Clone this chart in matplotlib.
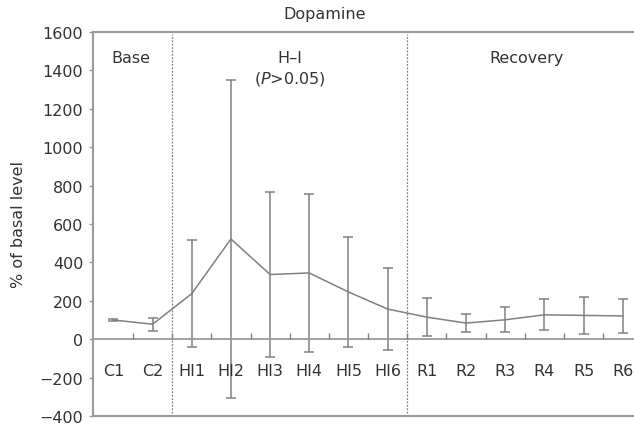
import matplotlib
matplotlib.use("Agg")
import matplotlib.pyplot as plt
import numpy as np

categories = ["C1", "C2", "HI1", "HI2", "HI3", "HI4", "HI5", "HI6",
              "R1", "R2", "R3", "R4", "R5", "R6"]
means = [100, 78, 237, 522, 337, 345, 246, 157, 115, 84, 101, 127, 124, 121]
errors = [5, 34, 280, 830, 432, 410, 288, 215, 98, 48, 66, 80, 96, 88]
phase_labels = ["H\u2212I\n($\\it{P}$>0.05)", "Base", "Recovery"]
phase_labels = ["Base", "H\u2013I\n($\\it{P}$>0.05)", "Recovery"]
phase_bounds = [1.5, 7.5]
yticks = [-400, -200, 0, 200, 400, 600, 800, 1000, 1200, 1400, 1600]

W, H = 634, 427
fig = plt.figure(figsize=(W / 100, H / 100), dpi=100)
ax = fig.add_axes([93 / W, 10 / H, (W - 93) / W + 0.01, (417 - 33) / H])

plt.rcParams['font.family'] = ['DejaVu Sans']
txt = '#333333'
gray = '#808080'
spine = '#9a9a9a'

x = np.arange(len(categories))
ax.errorbar(x, means, yerr=errors, color=gray, lw=1.1, capsize=3.8,
            elinewidth=1.1, capthick=1.1)

ax.set_xlim(-0.52, 13.45)
ax.set_ylim(-400, 1600)
ax.set_yticks(yticks)
ax.set_yticklabels([str(v).replace('-', '\u2212') for v in yticks],
                   fontsize=11.5, color=txt)
ax.tick_params(axis='y', length=3, width=1, color=spine, pad=4)
ax.set_xticks([])

ax.spines['right'].set_visible(False)
for s in ['left', 'top', 'bottom']:
    ax.spines[s].set_color(spine)
    ax.spines[s].set_linewidth(1.5)

# zero line with inward category separators
ax.axhline(0, color=spine, lw=1.3)
mids = x[:-1] + 0.5
ax.vlines(mids, 0, 32, color=gray, lw=1.0)

for xi, lab in zip(x, categories):
    ax.text(xi, -165, lab, ha='center', va='center', fontsize=11.5, color=txt)

# phase boundaries
ax.vlines(phase_bounds, -385, 1590, color=gray, lw=0.9,
          linestyles=(0, (1.5, 1.2)))

label_x = [0.45, 4.5, 10.55]
for lx, lab in zip(label_x, phase_labels):
    ax.text(lx, 1508, lab, ha='center', va='top', fontsize=11.5, color=txt,
            linespacing=1.3)

ax.set_ylabel('% of basal level', fontsize=11.5, color=txt, labelpad=10)
fig.text(325 / W, 1 - 14 / H, 'Dopamine', ha='center', va='center',
         fontsize=11.5, color=txt)

fig.savefig('out.png', dpi=100)
